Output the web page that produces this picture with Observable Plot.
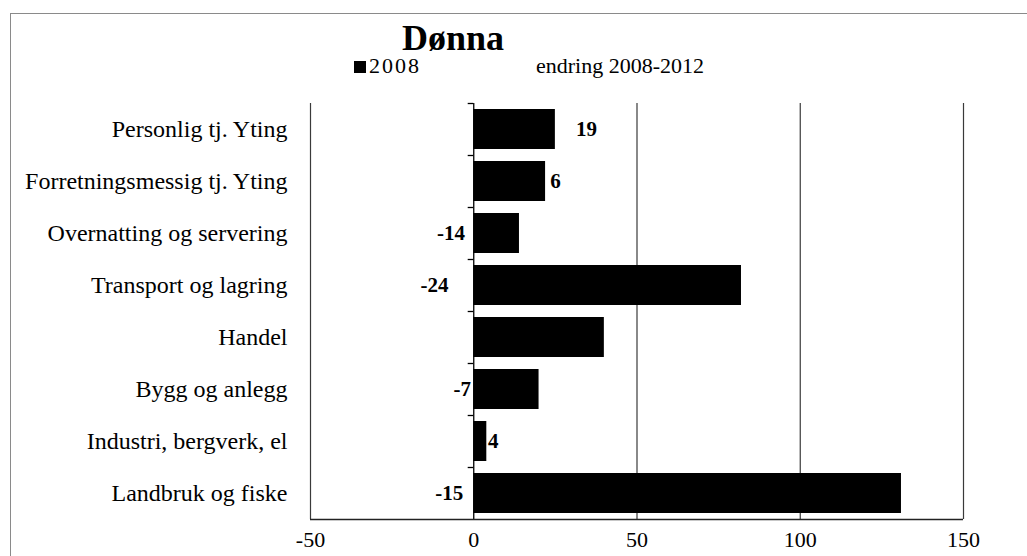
<!DOCTYPE html>
<html>
<head>
<meta charset="utf-8">
<script src="https://cdn.jsdelivr.net/npm/d3@7"></script>
<script src="https://cdn.jsdelivr.net/npm/@observablehq/plot@0.6"></script>
<style>
  html, body { margin: 0; padding: 0; background: #fff; }
  #wrap { position: relative; width: 1027px; height: 556px; overflow: hidden; font-family: "Liberation Serif", "Times New Roman", serif; color: #000; }
  #border { position: absolute; left: 10px; top: 13px; width: 1040px; height: 600px; border-top: 1px solid #8a8a8a; border-left: 1px solid #8a8a8a; }
  #title { position: absolute; top: 20px; left: 453px; transform: translateX(-50%); font-size: 36px; font-weight: bold; line-height: 1; white-space: nowrap; }
  .leg { position: absolute; top: 55px; font-size: 22px; line-height: 1; white-space: nowrap; }
  .sq { display: inline-block; width: 12px; height: 12px; background: #000; margin-right: 3px; vertical-align: 0px; }
  #chart { position: absolute; left: 0; top: 0; }
</style>
</head>
<body>
<div id="wrap">
  <div id="border"></div>
  <div id="chart"></div>
  <div id="title">Dønna</div>
  <div class="leg" style="left:354px"><span class="sq"></span><span style="letter-spacing:2px">2008</span></div>
  <div class="leg" style="left:536px">endring 2008-2012</div>
</div>
<script>
const categories = [
  "Personlig tj. Yting",
  "Forretningsmessig tj. Yting",
  "Overnatting og servering",
  "Transport og lagring",
  "Handel",
  "Bygg og anlegg",
  "Industri, bergverk, el",
  "Landbruk og fiske"
];
const values2008 = [25, 22, 14, 82, 40, 20, 4, 131];
const change = [19, 6, -14, -24, 0, -7, 4, -15];
const changeLabels = ["19", "6", "-14", "-24", "-", "-7", "4", "-15"];
const xTicks = [-50, 0, 50, 100, 150];
const gridTicks = [-50, 50, 100, 150];

const data = categories.map((c, i) => ({
  cat: c, v: values2008[i], ch: change[i], label: changeLabels[i],
  lx: change[i] >= 0 ? values2008[i] + change[i] / 2 : change[i] / 2
}));

const H = 556, mt = 103, mb = 37;
const step = (H - mt - mb) / categories.length;
const fmt = d => d < 0 ? "-" + Math.abs(d) : String(d);

const chart = Plot.plot({
  width: 1027,
  height: H,
  marginLeft: 310,
  marginRight: 64,
  marginTop: mt,
  marginBottom: mb,
  style: { fontFamily: '"Liberation Serif", "Times New Roman", serif', color: "#000", background: "transparent" },
  x: { domain: [-50, 150], ticks: xTicks, tickFormat: fmt, label: null },
  y: { domain: categories, paddingInner: 0.23, paddingOuter: 0.115, label: null },
  marks: [
    Plot.ruleX(gridTicks, { x: d => d, stroke: "#3a3a3a", strokeWidth: 1.2 }),
    Plot.barX(data, { x: "v", y: "cat", fill: "#000" }),
    Plot.ruleX([0], { x: d => d, stroke: "#000", strokeWidth: 1.3 }),
    Plot.ruleY(data, { y: "cat", x1: -1.7, x2: 0, dy: -step / 2, stroke: "#000", strokeWidth: 1.3 }),
    Plot.ruleY([categories[categories.length - 1]], { y: d => d, x1: -50, x2: 150, dy: step / 2, stroke: "#222", strokeWidth: 1.6 }),
    Plot.text(data.filter(d => d.ch !== 0), { x: "lx", y: "cat", text: "label", fontSize: 21, fontWeight: "bold", fill: "#000" }),
    Plot.text(data.filter(d => d.ch === 0), { x: "lx", y: "cat", text: "label", fontSize: 22, fontWeight: "bold", fill: "#000", dx: -8 }),
    Plot.axisX({ ticks: xTicks, tickSize: 0, tickPadding: 12, fontSize: 22, tickFormat: fmt, label: null }),
    Plot.axisY({ tickSize: 0, tickPadding: 23, fontSize: 24, label: null })
  ]
});
document.getElementById("chart").appendChild(chart);
</script>
</body>
</html>
